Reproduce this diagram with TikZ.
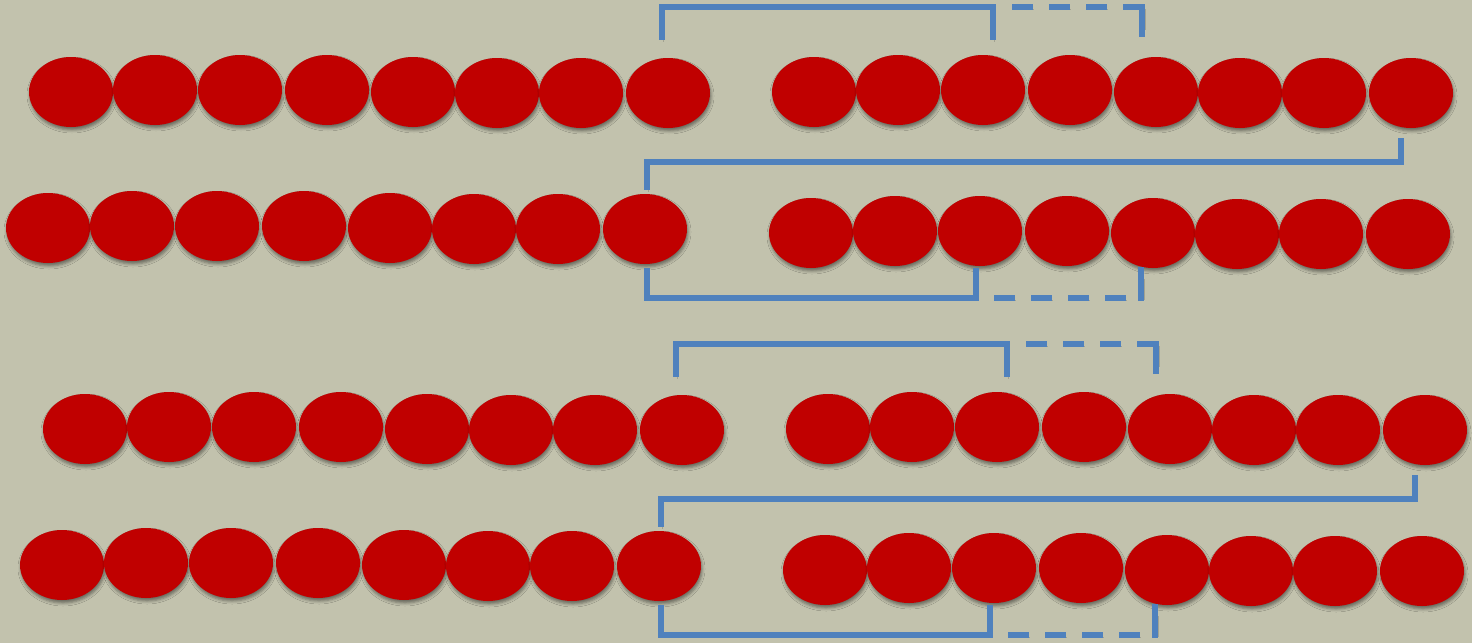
\documentclass[tikz,border=0pt]{standalone}
\usetikzlibrary{shapes.geometric,shadows.blur,calc}
\definecolor{bgolive}{RGB}{194,194,173}
\definecolor{beadred}{RGB}{192,0,0}
\definecolor{linkblue}{RGB}{79,129,189}
\tikzset{bead/.style={ellipse,fill=beadred,minimum width=84pt,minimum height=70pt,inner sep=0pt,
  blur shadow={shadow xshift=1pt,shadow yshift=-3pt,shadow blur radius=3pt,shadow opacity=45}}}
\tikzset{bracket/.style={draw=linkblue,line width=5.5pt,
  preaction={draw=black,opacity=.16,transform canvas={shift={(1pt,-2pt)}}}},
  dashbracket/.style={draw=linkblue,line width=5.5pt,dash pattern=on 21pt off 16pt,
  preaction={draw=black,opacity=.16,dash pattern=on 21pt off 16pt,transform canvas={shift={(1pt,-2pt)}}}}}

\begin{document}
\begin{tikzpicture}[x=1pt,y=-1pt]
  \fill[bgolive] (0,0) rectangle (1472,643);
  \useasboundingbox (0,0) rectangle (1472,643);
  \foreach \g/\dx/\dy in {1/0/0,2/14/337}{
    \begin{scope}[shift={(\dx,\dy)}]
    % two rows of eight beads, each split in two halves
    \foreach \i/\x/\y in {1/71/92,2/155/90,3/240/90,4/327/90,5/413/92,6/497/93,7/581/93,8/668/93}{
      \node [bead] (a\g-\i) at (\x,\y) {};
      \node [bead] (b\g-\i) at (\x+743,\y) {};
      \node [bead] (c\g-\i) at (\x-23,\y+136) {};
      \node [bead] (d\g-\i) at (\x+740,\y+141) {};
    }
    \end{scope}
    % brackets
    \draw [bracket] ([xshift=-6pt,yshift=18pt]a\g-8.north) -- ++(0,-33) coordinate (tl\g)
      -| ([xshift=10pt,yshift=15pt]b\g-3.north);
    \draw [dashbracket] ([xshift=29pt]b\g-3.north |- tl\g) -- ([xshift=-14pt]b\g-5.north |- tl\g)
      edge [bracket,solid,line cap=rect] ([xshift=-14pt,yshift=23pt]b\g-5.north);
    \draw [bracket] ([xshift=-10pt,yshift=-10pt]b\g-8.south) -- ++(0,24) -| ([xshift=2pt,yshift=4pt]c\g-8.north);
    \draw [bracket] ([xshift=2pt,yshift=-4pt]c\g-8.south) -- ++(0,30) coordinate (bl\g)
      -| ([xshift=-4pt,yshift=-2pt]d\g-3.south);
    \draw [dashbracket] ([xshift=14pt]d\g-3.south |- bl\g) -- ([xshift=-12pt]d\g-5.south |- bl\g)
      edge [bracket,solid,line cap=rect] ([xshift=-12pt,yshift=-2pt]d\g-5.south);
  }
\end{tikzpicture}
\end{document}
